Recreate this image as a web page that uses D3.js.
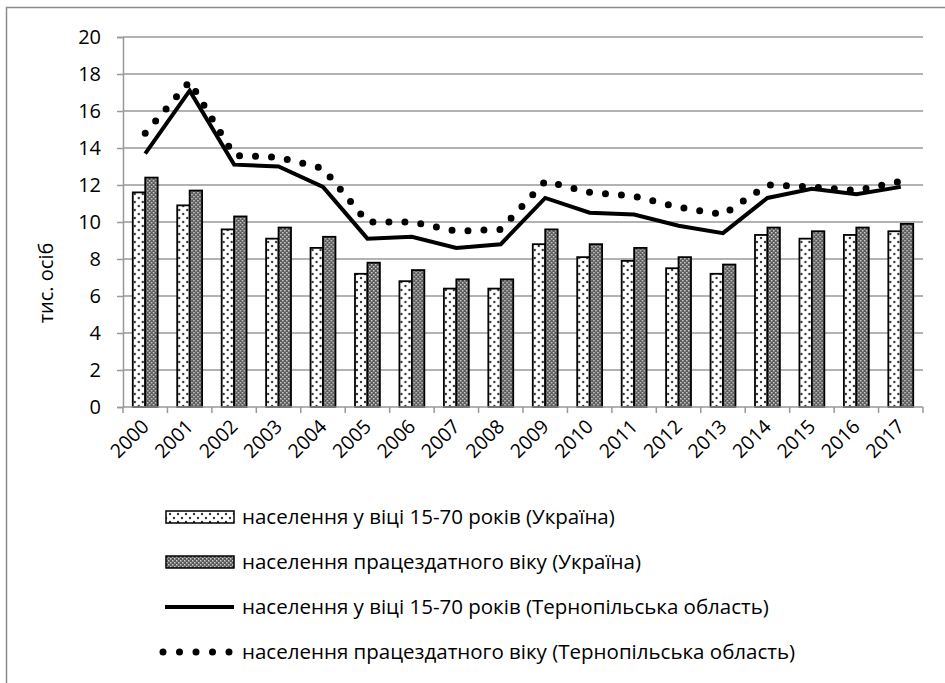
<!DOCTYPE html>
<html>
<head>
<meta charset="utf-8">
<script src="https://cdn.jsdelivr.net/npm/d3@7"></script>
<style>
  body { margin: 0; background: #fff; overflow: hidden; }
  svg { display: block; }
  text { font-family: "Open Sans", "Noto Sans", sans-serif; fill: #000; }
</style>
</head>
<body>
<div id="chart"></div>
<script>
var svgWidth = 945;
var svgHeight = 683;

// data (thousand persons)
var years = ["2000", "2001", "2002", "2003", "2004", "2005", "2006", "2007", "2008",
    "2009", "2010", "2011", "2012", "2013", "2014", "2015", "2016", "2017"];
var ukr1570 = [11.6, 10.9, 9.6, 9.1, 8.6, 7.2, 6.8, 6.4, 6.4, 8.8, 8.1, 7.9, 7.5, 7.2, 9.3, 9.1, 9.3, 9.5];
var ukrWorking = [12.4, 11.7, 10.3, 9.7, 9.2, 7.8, 7.4, 6.9, 6.9, 9.6, 8.8, 8.6, 8.1, 7.7, 9.7, 9.5, 9.7, 9.9];
var tern1570 = [13.7, 17.1, 13.1, 13.0, 11.9, 9.1, 9.2, 8.6, 8.8, 11.3, 10.5, 10.4, 9.8, 9.4, 11.3, 11.8, 11.5, 11.9];
var ternWorking = [14.8, 17.6, 13.6, 13.5, 12.9, 10.0, 10.0, 9.5, 9.6, 12.2, 11.6, 11.4, 10.8, 10.4, 12.0, 11.9, 11.7, 12.2];
var yTicks = [0, 2, 4, 6, 8, 10, 12, 14, 16, 18, 20];
var legendLabels = [
    "населення у віці 15-70 років (Україна)",
    "населення працездатного віку (Україна)",
    "населення у віці 15-70 років (Тернопільська область)",
    "населення працездатного віку (Тернопільська область)"
];

var plot = { left: 123, right: 923, top: 37, bottom: 407 };

var svg = d3.select("#chart")
    .append("svg")
    .attr("width", svgWidth)
    .attr("height", svgHeight);

// patterns for the bars
var defs = svg.append("defs");
var dots = defs.append("pattern")
    .attr("id", "dots")
    .attr("patternUnits", "userSpaceOnUse")
    .attr("width", 8).attr("height", 8);
dots.append("rect").attr("width", 8).attr("height", 8).attr("fill", "#fff");
dots.append("circle").attr("cx", 2).attr("cy", 2).attr("r", 1.2).attr("fill", "#333");
dots.append("circle").attr("cx", 6).attr("cy", 6).attr("r", 1.2).attr("fill", "#333");

var hatch = defs.append("pattern")
    .attr("id", "hatch")
    .attr("patternUnits", "userSpaceOnUse")
    .attr("width", 4).attr("height", 4);
hatch.append("rect").attr("width", 4).attr("height", 4).attr("fill", "#5a5a5a");
hatch.append("rect").attr("x", 0).attr("y", 0).attr("width", 1.5).attr("height", 1.5).attr("fill", "#d0d0d0");
hatch.append("rect").attr("x", 2).attr("y", 2).attr("width", 1.5).attr("height", 1.5).attr("fill", "#d0d0d0");

// outer frame (right/bottom edges fall outside the picture)
svg.append("rect")
    .attr("x", 6.5).attr("y", 7.5)
    .attr("width", svgWidth + 50).attr("height", svgHeight + 50)
    .attr("fill", "none")
    .attr("stroke", "#8c8c8c")
    .attr("stroke-width", 1.5);

// scales
var xCat = d3.scaleBand()
    .domain(years)
    .range([plot.left, plot.right]);
var xGroup = d3.scaleBand()
    .domain(years)
    .range([plot.left, plot.right])
    .paddingInner(0.44)
    .paddingOuter(0.22);
var xSub = d3.scaleBand()
    .domain([0, 1])
    .range([0, xGroup.bandwidth()]);
var y = d3.scaleLinear()
    .domain([0, 20])
    .range([plot.bottom, plot.top]);

// gridlines
svg.append("g")
    .selectAll("line")
    .data(yTicks.filter(d => d > 0))
    .enter()
    .append("line")
    .attr("x1", plot.left)
    .attr("x2", plot.right)
    .attr("y1", d => y(d))
    .attr("y2", d => y(d))
    .attr("stroke", "#999")
    .attr("stroke-width", 1.5);

// y axis
var yAxis = svg.append("g")
    .attr("transform", `translate(${plot.left},0)`)
    .call(d3.axisLeft(y).tickValues(yTicks).tickSize(6).tickPadding(16));
yAxis.select(".domain").attr("stroke", "#999").attr("stroke-width", 1.5);
yAxis.selectAll(".tick line").attr("stroke", "#999").attr("stroke-width", 1.5);
yAxis.selectAll(".tick text")
    .style("font-family", "'Open Sans', sans-serif")
    .style("font-size", "20px")
    .attr("fill", "#000");

svg.append("text")
    .attr("transform", "translate(46,283) rotate(-90)")
    .attr("text-anchor", "middle")
    .attr("dy", "0.35em")
    .style("font-size", "20px")
    .text("тис. осіб");

// bars
var barGroups = svg.append("g")
    .selectAll("g")
    .data(years)
    .enter()
    .append("g")
    .attr("transform", d => `translate(${xGroup(d)},0)`);

barGroups.append("rect")
    .attr("x", xSub(0))
    .attr("width", xSub.bandwidth())
    .attr("y", (d, i) => y(ukr1570[i]))
    .attr("height", (d, i) => y(0) - y(ukr1570[i]))
    .attr("fill", "url(#dots)")
    .attr("stroke", "#000")
    .attr("stroke-width", 1.8);

barGroups.append("rect")
    .attr("x", xSub(1))
    .attr("width", xSub.bandwidth())
    .attr("y", (d, i) => y(ukrWorking[i]))
    .attr("height", (d, i) => y(0) - y(ukrWorking[i]))
    .attr("fill", "url(#hatch)")
    .attr("stroke", "#000")
    .attr("stroke-width", 1.8);

// x axis
var xAxisG = svg.append("g");
xAxisG.append("line")
    .attr("x1", plot.left).attr("x2", plot.right)
    .attr("y1", plot.bottom).attr("y2", plot.bottom)
    .attr("stroke", "#999").attr("stroke-width", 1.5);
xAxisG.selectAll(".tk")
    .data(years.concat(["end"]))
    .enter()
    .append("line")
    .attr("x1", (d, i) => i < years.length ? xCat(d) : plot.right)
    .attr("x2", (d, i) => i < years.length ? xCat(d) : plot.right)
    .attr("y1", plot.bottom)
    .attr("y2", plot.bottom + 6)
    .attr("stroke", "#999").attr("stroke-width", 1.5);
xAxisG.selectAll(".lbl")
    .data(years)
    .enter()
    .append("text")
    .attr("transform", d => `translate(${xCat(d) + xCat.bandwidth() / 2},${plot.bottom + 16}) rotate(-45)`)
    .attr("text-anchor", "end")
    .attr("dy", "0.35em")
    .style("font-size", "19.5px")
    .text(d => d);

// lines
var cx = d => xCat(d) + xCat.bandwidth() / 2;
var line = d3.line()
    .x(d => cx(d[0]))
    .y(d => y(d[1]));

svg.append("path")
    .datum(years.map((d, i) => [d, tern1570[i]]))
    .attr("d", line)
    .attr("fill", "none")
    .attr("stroke", "#000")
    .attr("stroke-width", 4);

svg.append("path")
    .datum(years.map((d, i) => [d, ternWorking[i]]))
    .attr("d", line)
    .attr("fill", "none")
    .attr("stroke", "#000")
    .attr("stroke-width", 7)
    .attr("stroke-linecap", "round")
    .attr("stroke-dasharray", "0 16");

// legend
var legend = svg.append("g");
var rowY = [517, 562, 607, 652];
var swX = 166, swW = 68;

legend.append("rect")
    .attr("x", swX).attr("y", rowY[0] - 6)
    .attr("width", swW).attr("height", 12)
    .attr("fill", "url(#dots)").attr("stroke", "#000").attr("stroke-width", 1.5);
legend.append("rect")
    .attr("x", swX).attr("y", rowY[1] - 6)
    .attr("width", swW).attr("height", 12)
    .attr("fill", "url(#hatch)").attr("stroke", "#000").attr("stroke-width", 1.5);
legend.append("line")
    .attr("x1", swX - 1).attr("x2", swX + swW)
    .attr("y1", rowY[2]).attr("y2", rowY[2])
    .attr("stroke", "#000").attr("stroke-width", 4);
legend.append("line")
    .attr("x1", swX - 3).attr("x2", swX + swW)
    .attr("y1", rowY[3]).attr("y2", rowY[3])
    .attr("stroke", "#000").attr("stroke-width", 7)
    .attr("stroke-linecap", "round")
    .attr("stroke-dasharray", "0 16.5");

legend.selectAll("text")
    .data(legendLabels)
    .enter()
    .append("text")
    .attr("x", 242)
    .attr("y", (d, i) => rowY[i])
    .attr("dy", "0.35em")
    .style("font-size", "20.5px")
    .text(d => d);
</script>
</body>
</html>
